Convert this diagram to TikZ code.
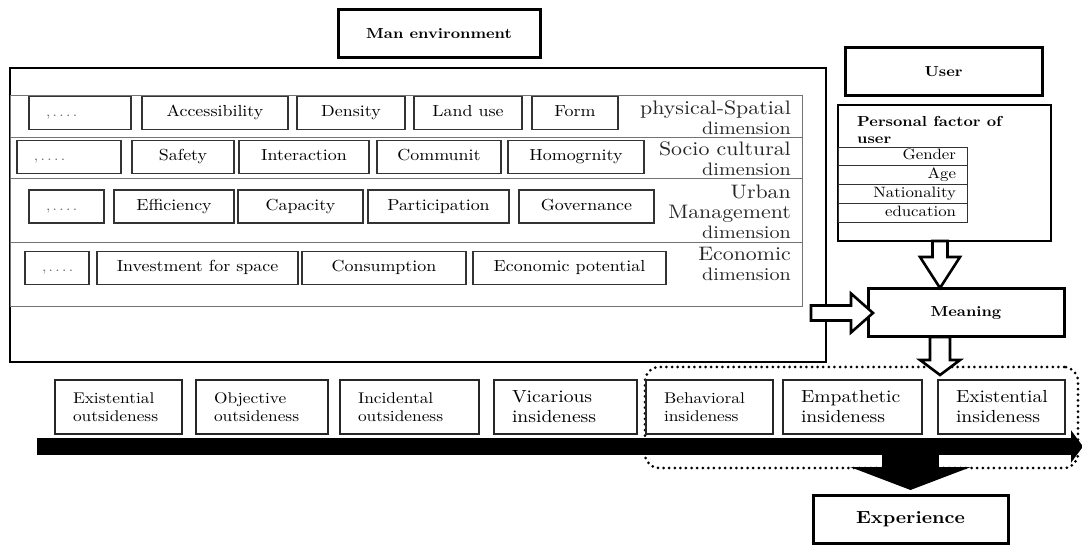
\documentclass[tikz,border=0pt]{standalone}
\usepackage{fontspec}
\setmainfont{lmroman10-regular}[Extension=.otf, BoldFont=lmroman10-bold, FakeStretch=1.12]
\usepackage{tikz}
\usetikzlibrary{arrows.meta,positioning,fit,calc}

\newcommand\dimword{{\fontsize{18}{20}\selectfont dimension}}

\tikzset{
    cell/.style={draw=black!80, line width=1.1pt, outer sep=0pt, inner sep=0pt,
                 minimum height=33pt, text height=11pt, text depth=3pt,
                 font=\fontsize{16}{18}\selectfont},
    etcbox/.style={cell, text width=#1, align=left, inner xsep=17pt,
                 text=black!60, font=\fontsize{14}{14}\selectfont},
    dimrow/.style={draw=black!55, line width=0.9pt, outer sep=0pt, inner sep=0pt,
                 minimum width=792pt, minimum height=#1},
    dimlabel/.style={anchor=north east, align=right, inner sep=0pt, text=black!85,
                 font=\fontsize{19.5}{20}\selectfont},
    title/.style={draw, line width=3pt, outer sep=0pt, inner sep=0pt,
                 minimum height=48pt, font=\bfseries\fontsize{14.5}{17}\selectfont},
    factor/.style={draw=black!80, line width=0.9pt, outer sep=0pt, inner sep=0pt,
                 minimum width=129pt, minimum height=18.75pt, text width=107pt,
                 align=right, text height=10.5pt, text depth=3.5pt,
                 font=\fontsize{15}{15}\selectfont},
    stage/.style={draw=black!85, line width=1.1pt, outer sep=0pt, inner xsep=18pt,
                 inner ysep=0pt, minimum height=54pt, align=left, text width=#1,
                 font=\fontsize{15.5}{18}\selectfont},
    bigstage/.style={stage=#1, font=\fontsize{17.5}{20}\selectfont},
    group/.style={draw, line width=3pt, dash pattern=on 0pt off 5.6pt,
                 line cap=round, rounded corners=14pt, inner sep=0pt},
    hollow/.style={draw, fill=white, line width=2.6pt, line join=miter},
    timeline/.style={line width=17pt, -{Triangle[length=12pt, width=32pt]}},
    bigarrow/.style={line width=57pt, -{Triangle[length=23pt, width=120pt]}},
}

\begin{document}
\begin{tikzpicture}[x=1pt,y=-1pt]
                \useasboundingbox (0,0) rectangle (1082,545);

                \node [draw, line width=2.2pt, outer sep=0pt, inner sep=0pt,
                        minimum width=816pt, minimum height=294pt,
                        anchor=north west] (outer) at (10,68) {};
                \node [dimrow=42pt, anchor=north west] (dim1) at (10,95) {};
                \node [dimrow=41pt, below=0pt of dim1] (dim2) {};
                \node [dimrow=64pt, below=0pt of dim2] (dim3) {};
                \node [dimrow=64pt, below=0pt of dim3] (dim4) {};

                \node [etcbox=68pt, anchor=west] (etc1) at (29,113) {,\,.\,.\,.\,.};
                \node [cell, minimum width=146pt, right=11pt of etc1] (acc) {Accessibility};
                \node [cell, minimum width=108pt, right=9pt of acc] (dens) {Density};
                \node [cell, minimum width=108pt, right=9pt of dens] (land) {Land use};
                \node [cell, minimum width=86pt, right=10pt of land] (form) {Form};
                \node [dimlabel] (lab1) at (791,101) {physical-Spatial\\\dimword};

                \node [etcbox=70pt, anchor=west] (etc2) at (17,157) {,\,.\,.\,.\,.};
                \node [cell, minimum width=102pt, right=11pt of etc2] (safe) {Safety};
                \node [cell, minimum width=130pt, right=5pt of safe] (inter) {Interaction};
                \node [cell, minimum width=124pt, right=8pt of inter] (comm) {Communit};
                \node [cell, minimum width=136pt, right=7pt of comm] (homo) {Homogrnity};
                \node [dimlabel] (lab2) at (791,142) {Socio cultural\\\dimword};

                \node [etcbox=41pt, anchor=west] (etc3) at (29,206.5) {,\,.\,.\,.\,.};
                \node [cell, minimum width=120pt, right=10pt of etc3] (effi) {Efficiency};
                \node [cell, minimum width=125pt, right=4pt of effi] (capa) {Capacity};
                \node [cell, minimum width=141pt, right=5pt of capa] (part) {Participation};
                \node [cell, minimum width=135pt, right=10pt of part] (gov) {Governance};
                \node [dimlabel] (lab3) at (791,185) {Urban\\Management\\\dimword};

                \node [etcbox=30pt, anchor=west] (etc4) at (25,268) {,\,.\,.\,.\,.};
                \node [cell, minimum width=201pt, right=8pt of etc4] (inv) {Investment for space};
                \node [cell, minimum width=164pt, right=4pt of inv] (cons) {Consumption};
                \node [cell, minimum width=193pt, right=7pt of cons] (econ) {Economic potential};
                \node [dimlabel] (lab4) at (791,247) {Economic\\\dimword};

                \node [title, minimum width=202pt] (man) at (439,34) {Man environment};
                \node [title, minimum width=197pt] (user) at (943.5,71.5) {User};

                \node [draw, line width=1.7pt, outer sep=0pt, inner sep=0pt,
                        minimum width=213pt, minimum height=136pt,
                        anchor=north west] (pf) at (838,105) {};
                \node [anchor=north west, inner sep=0pt, align=left,
                        font=\bfseries\fontsize{14.5}{17}\selectfont]
                                        (pftext) at (857,116) {Personal factor of\\user};
                \node [factor, anchor=north west] (gender) at (838,147) {Gender};
                \node [factor, below=0pt of gender] (age) {Age};
                \node [factor, below=0pt of age] (nation) {Nationality};
                \node [factor, below=0pt of nation] (edu) {education};

                \node [title, minimum width=196pt] (meaning) at (966,313) {Meaning};
                \node [title, minimum width=195pt, font=\bfseries\fontsize{17.5}{20}\selectfont]
                                        (exp) at (910.5,519) {Experience};

                \node [group, fit={(645,367) (1078,468)}] (grp) {};

                \node [stage=91pt, anchor=west] (exout) at (55,407) {Existential\\outsideness};
                \node [stage=96pt, right=14pt of exout] (obout) {Objective\\outsideness};
                \node [stage=103pt, right=12pt of obout] (inout) {Incidental\\outsideness};
                \node [bigstage=107pt, right=15pt of inout] (viin) {Vicarious\\insideness};
                \node [stage=91pt, right=9pt of viin] (bein) {Behavioral\\insideness};
                \node [bigstage=103pt, right=10pt of bein] (emin) {Empathetic\\insideness};
                \node [bigstage=91pt, right=16pt of emin] (exin) {Existential\\insideness};

                \coordinate (tl0) at (37,446.5);
                \coordinate (tl1) at (1083,446.5);
                \draw [timeline] (tl0) -- (tl1);
                \draw [bigarrow] (exp.north |- tl0) -- ([yshift=5pt]exp.north);

                \coordinate (a1) at ([xshift=-4.5pt]pf.south);
                \draw [hollow] ($(a1)+(-7.5,0)$) -- ++(0,16) -- ++(-12.5,0)
                        -- ($(a1 |- meaning.north)+(0,-1)$) -- ($(a1)+(20,16)$)
                        -- ++(-12.5,0) -- ++(0,-16) -- cycle;

                \coordinate (a2) at ($(outer.east |- meaning.west)+(-15,0)$);
                \draw [hollow] ($(a2)+(0,-7.5)$) -- ++(40,0) -- ++(0,-12)
                        -- ($(meaning.west)+(5,0)$) -- ($(a2)+(40,19.5)$)
                        -- ++(0,-12) -- ($(a2)+(0,7.5)$) -- cycle;

                \coordinate (a3) at ($(meaning.south)+(-26,0)$);
                \draw [hollow] ($(a3)+(-10,0)$) -- ++(0,23) -- ++(-10,0)
                        -- ($(a3)+(0,38)$) -- ($(a3)+(20,23)$)
                        -- ++(-10,0) -- ++(0,-23) -- cycle;
\end{tikzpicture}
\end{document}
